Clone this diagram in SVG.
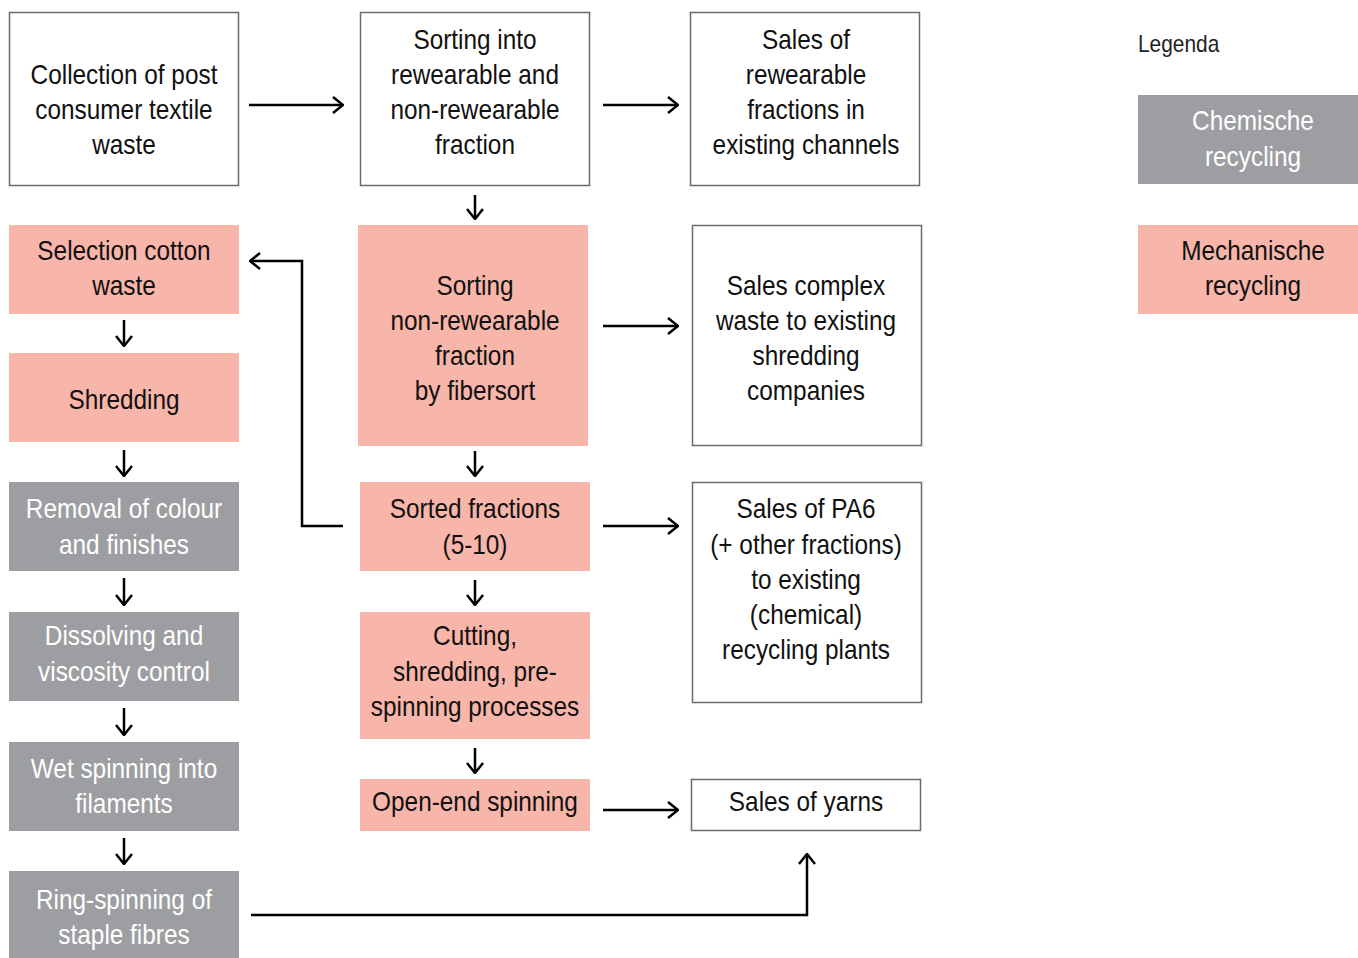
<svg xmlns="http://www.w3.org/2000/svg" width="1358" height="958" viewBox="0 0 1358 958">
<defs>
<style>
text{font-family:"Liberation Sans",Arial,sans-serif;font-size:28px;text-anchor:middle;fill:#111}
.w{fill:#fff;stroke:#6b6b6b;stroke-width:1.5}
.p{fill:#f8b5a9}
.g{fill:#9d9ea1}
.g text{fill:#fff}
.c{fill:none;stroke:#000;stroke-width:2.5}
</style>
<marker id="ah" viewBox="0 0 12 18" refX="11" refY="9" markerWidth="12" markerHeight="18" markerUnits="userSpaceOnUse" orient="auto">
<path d="M1,1 L11,9 L1,17" fill="none" stroke="#000" stroke-width="2.5"/>
</marker>
</defs>
<rect width="1358" height="958" fill="#fff"/>

<g id="n-collection"><rect class="w" x="9.5" y="12.5" width="229" height="173"/><g transform="translate(124,0) scale(0.87,1)"><text x="0" y="84">Collection of post</text><text x="0" y="119">consumer textile</text><text x="0" y="154">waste</text></g></g>
<g id="n-sorting-into"><rect class="w" x="360.5" y="12.5" width="229" height="173"/><g transform="translate(475,0) scale(0.87,1)"><text x="0" y="49">Sorting into</text><text x="0" y="84">rewearable and</text><text x="0" y="119">non-rewearable</text><text x="0" y="154">fraction</text></g></g>
<g id="n-sales-rewearable"><rect class="w" x="690.5" y="12.5" width="229" height="173"/><g transform="translate(806,0) scale(0.87,1)"><text x="0" y="49">Sales of</text><text x="0" y="84">rewearable</text><text x="0" y="119">fractions in</text><text x="0" y="154">existing channels</text></g></g>

<g id="n-selection"><rect class="p" x="9" y="225" width="230" height="89"/><g transform="translate(124,0) scale(0.87,1)"><text x="0" y="260">Selection cotton</text><text x="0" y="295">waste</text></g></g>
<g id="n-shredding"><rect class="p" x="9" y="353" width="230" height="89"/><g transform="translate(124,0) scale(0.87,1)"><text x="0" y="409">Shredding</text></g></g>
<g id="n-removal" class="g"><rect x="9" y="482" width="230" height="89"/><g transform="translate(124,0) scale(0.87,1)"><text x="0" y="518">Removal of colour</text><text x="0" y="554">and finishes</text></g></g>
<g id="n-dissolving" class="g"><rect x="9" y="612" width="230" height="89"/><g transform="translate(124,0) scale(0.87,1)"><text x="0" y="645">Dissolving and</text><text x="0" y="681">viscosity control</text></g></g>
<g id="n-wet" class="g"><rect x="9" y="742" width="230" height="89"/><g transform="translate(124,0) scale(0.87,1)"><text x="0" y="778">Wet spinning into</text><text x="0" y="813">filaments</text></g></g>
<g id="n-ring" class="g"><rect x="9" y="871" width="230" height="87"/><g transform="translate(124,0) scale(0.87,1)"><text x="0" y="909">Ring-spinning of</text><text x="0" y="944">staple fibres</text></g></g>

<g id="n-fibersort"><rect class="p" x="358" y="225" width="230" height="221"/><g transform="translate(475,0) scale(0.87,1)"><text x="0" y="295">Sorting</text><text x="0" y="330">non-rewearable</text><text x="0" y="365">fraction</text><text x="0" y="400">by fibersort</text></g></g>
<g id="n-sorted"><rect class="p" x="360" y="482" width="230" height="89"/><g transform="translate(475,0) scale(0.87,1)"><text x="0" y="518">Sorted fractions</text><text x="0" y="554">(5-10)</text></g></g>
<g id="n-cutting"><rect class="p" x="360" y="612" width="230" height="127"/><g transform="translate(475,0) scale(0.87,1)"><text x="0" y="645">Cutting,</text><text x="0" y="681">shredding, pre-</text><text x="0" y="716">spinning processes</text></g></g>
<g id="n-openend"><rect class="p" x="360" y="779" width="230" height="52"/><g transform="translate(475,0) scale(0.87,1)"><text x="0" y="811">Open-end spinning</text></g></g>

<g id="n-sales-complex"><rect class="w" x="692.5" y="225.5" width="229" height="220"/><g transform="translate(806,0) scale(0.87,1)"><text x="0" y="295">Sales complex</text><text x="0" y="330">waste to existing</text><text x="0" y="365">shredding</text><text x="0" y="400">companies</text></g></g>
<g id="n-sales-pa6"><rect class="w" x="692.5" y="482.5" width="229" height="220"/><g transform="translate(806,0) scale(0.87,1)"><text x="0" y="518">Sales of PA6</text><text x="0" y="554">(+ other fractions)</text><text x="0" y="589">to existing</text><text x="0" y="624">(chemical)</text><text x="0" y="659">recycling plants</text></g></g>
<g id="n-sales-yarns"><rect class="w" x="691.5" y="779.5" width="229" height="51"/><g transform="translate(806,0) scale(0.87,1)"><text x="0" y="811">Sales of yarns</text></g></g>

<g id="legend">
<g transform="translate(1138,0) scale(0.87,1)"><text x="0" y="52" style="text-anchor:start;font-size:24px;fill:#222">Legenda</text></g>
<g id="lg-chem" class="g"><rect x="1138" y="95" width="220" height="89"/><g transform="translate(1253,0) scale(0.87,1)"><text x="0" y="130">Chemische</text><text x="0" y="166">recycling</text></g></g>
<g id="lg-mech"><rect class="p" x="1138" y="225" width="220" height="89"/><g transform="translate(1253,0) scale(0.87,1)"><text x="0" y="260">Mechanische</text><text x="0" y="295">recycling</text></g></g>
</g>

<g id="connectors">
<path class="c" d="M249,105 H343" marker-end="url(#ah)"/>
<path class="c" d="M603,105 H678" marker-end="url(#ah)"/>
<path class="c" d="M603,326 H678" marker-end="url(#ah)"/>
<path class="c" d="M603,526 H678" marker-end="url(#ah)"/>
<path class="c" d="M603,810 H678" marker-end="url(#ah)"/>
<path class="c" d="M475,195 V219" marker-end="url(#ah)"/>
<path class="c" d="M475,451 V476" marker-end="url(#ah)"/>
<path class="c" d="M475,580 V605" marker-end="url(#ah)"/>
<path class="c" d="M475,748 V773" marker-end="url(#ah)"/>
<path class="c" d="M124,320 V346" marker-end="url(#ah)"/>
<path class="c" d="M124,450 V476" marker-end="url(#ah)"/>
<path class="c" d="M124,578 V605" marker-end="url(#ah)"/>
<path class="c" d="M124,708 V735" marker-end="url(#ah)"/>
<path class="c" d="M124,838 V864" marker-end="url(#ah)"/>
<path class="c" d="M343,526 H302 V261 H250" marker-end="url(#ah)"/>
<path class="c" d="M251,915 H807 V854" marker-end="url(#ah)"/>
</g>
</svg>
